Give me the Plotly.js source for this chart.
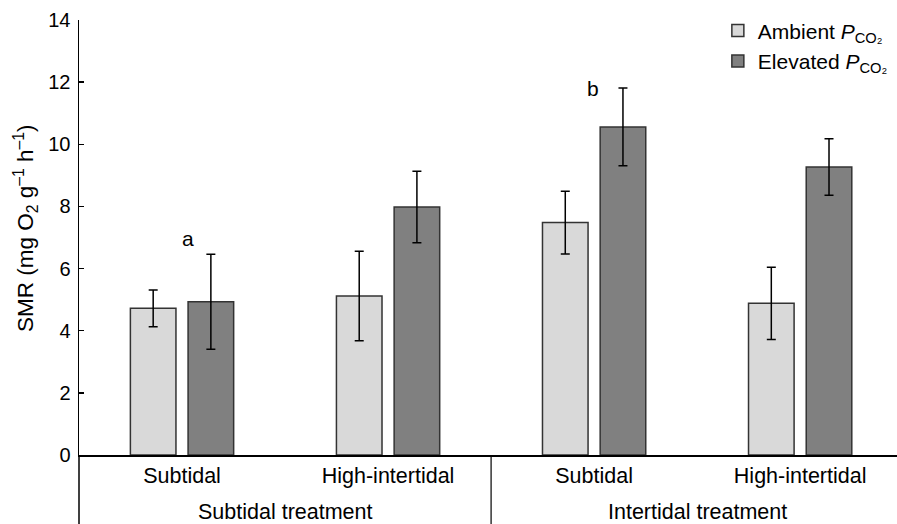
<!DOCTYPE html>
<html>
<head>
<meta charset="utf-8">
<script src="https://cdn.plot.ly/plotly-3.0.1.min.js"></script>
<style>html,body{margin:0;padding:0;background:#fff;}#chart{width:897px;height:524px;}</style>
</head>
<body>
<div id="chart"></div>
<script>
const categories = ['Subtidal', 'High-intertidal', 'Subtidal', 'High-intertidal'];
const groups = ['Subtidal treatment', 'Intertidal treatment'];
const ambient = [4.72, 5.12, 7.48, 4.88];
const ambientErr = [0.59, 1.44, 1.01, 1.16];
const elevated = [4.93, 7.98, 10.56, 9.27];
const elevatedErr = [1.53, 1.15, 1.25, 0.91];
const letters = ['a', '', 'b', ''];
const letterY = [6.98, null, 11.81, null];
const yTicks = [0, 2, 4, 6, 8, 10, 12, 14];
const yTitle = 'SMR (mg O<sub>2</sub> g<sup>–1</sup> h<sup>–1</sup>)';

const xIdx = categories.map((_, i) => i);
const FONT = '"Liberation Sans", Arial, sans-serif';

const errStyle = {type: 'data', visible: true, color: '#000', thickness: 1.5, width: 4.5};

const traces = [
  {
    type: 'bar', name: 'Ambient <i>P</i><sub>CO₂</sub>', x: xIdx, y: ambient,
    error_y: Object.assign({array: ambientErr}, errStyle),
    marker: {color: '#d9d9d9', line: {color: '#333', width: 1.5}}
  },
  {
    type: 'bar', name: 'Elevated <i>P</i><sub>CO₂</sub>', x: xIdx, y: elevated,
    error_y: Object.assign({array: elevatedErr}, errStyle),
    marker: {color: '#808080', line: {color: '#333', width: 1.5}}
  }
];

const plotW = 818, plotH = 435;
const annotations = [];
letters.forEach((t, i) => {
  if (t) annotations.push({x: i, y: letterY[i], xref: 'x', yref: 'y', text: t, showarrow: false,
    xshift: i === 0 ? 6 : -1, font: {family: FONT, size: 21, color: '#000'}});
});
groups.forEach((g, k) => {
  annotations.push({x: 2 * k + 0.5, y: -0.131, xref: 'x', yref: 'paper', text: g, showarrow: false,
    yanchor: 'middle', font: {family: FONT, size: 21.5, color: '#000'}});
});
annotations.push({x: -54 / plotW, y: 227 / plotH, xref: 'paper', yref: 'paper', text: yTitle,
  textangle: -90, showarrow: false, xanchor: 'center', yanchor: 'middle',
  font: {family: FONT, size: 22.5, color: '#000'}});

const shapes = [
  {type: 'line', xref: 'x', yref: 'paper', x0: 1.5, x1: 1.5, y0: 0, y1: -69 / plotH, line: {color: '#000', width: 1.2}},
  {type: 'line', xref: 'paper', yref: 'paper', x0: 0, x1: 0, y0: 0, y1: -69 / plotH, line: {color: '#000', width: 1.5}}
];

const layout = {
  width: 897, height: 524,
  margin: {l: 79, r: 0, t: 20, b: 69},
  paper_bgcolor: '#fff', plot_bgcolor: '#fff',
  font: {family: FONT, size: 20, color: '#000'},
  barmode: 'group', bargap: 0.44, bargroupgap: 0.21,
  showlegend: true,
  legend: {x: 0.781, y: 1.022, xanchor: 'left', yanchor: 'top', bgcolor: 'rgba(0,0,0,0)',
    font: {family: FONT, size: 21, color: '#000'}, tracegroupgap: 0},
  xaxis: {
    range: [-0.5, 3.47], tickvals: xIdx, ticktext: categories,
    showline: true, linecolor: '#000', linewidth: 2, ticks: '', showgrid: false, zeroline: false,
    tickfont: {family: FONT, size: 21.5, color: '#000'}, fixedrange: true
  },
  yaxis: {
    range: [0, 14], tickvals: yTicks, ticks: 'inside', ticklen: 5, tickwidth: 1.5, tickcolor: '#000',
    showline: true, linecolor: '#000', linewidth: 1.5, showgrid: false, zeroline: false,
    ticklabelstandoff: 3,
    tickfont: {family: FONT, size: 20, color: '#000'}
  },
  annotations: annotations,
  shapes: shapes
};

Plotly.newPlot('chart', traces, layout, {displayModeBar: false, staticPlot: true});
</script>
</body>
</html>
